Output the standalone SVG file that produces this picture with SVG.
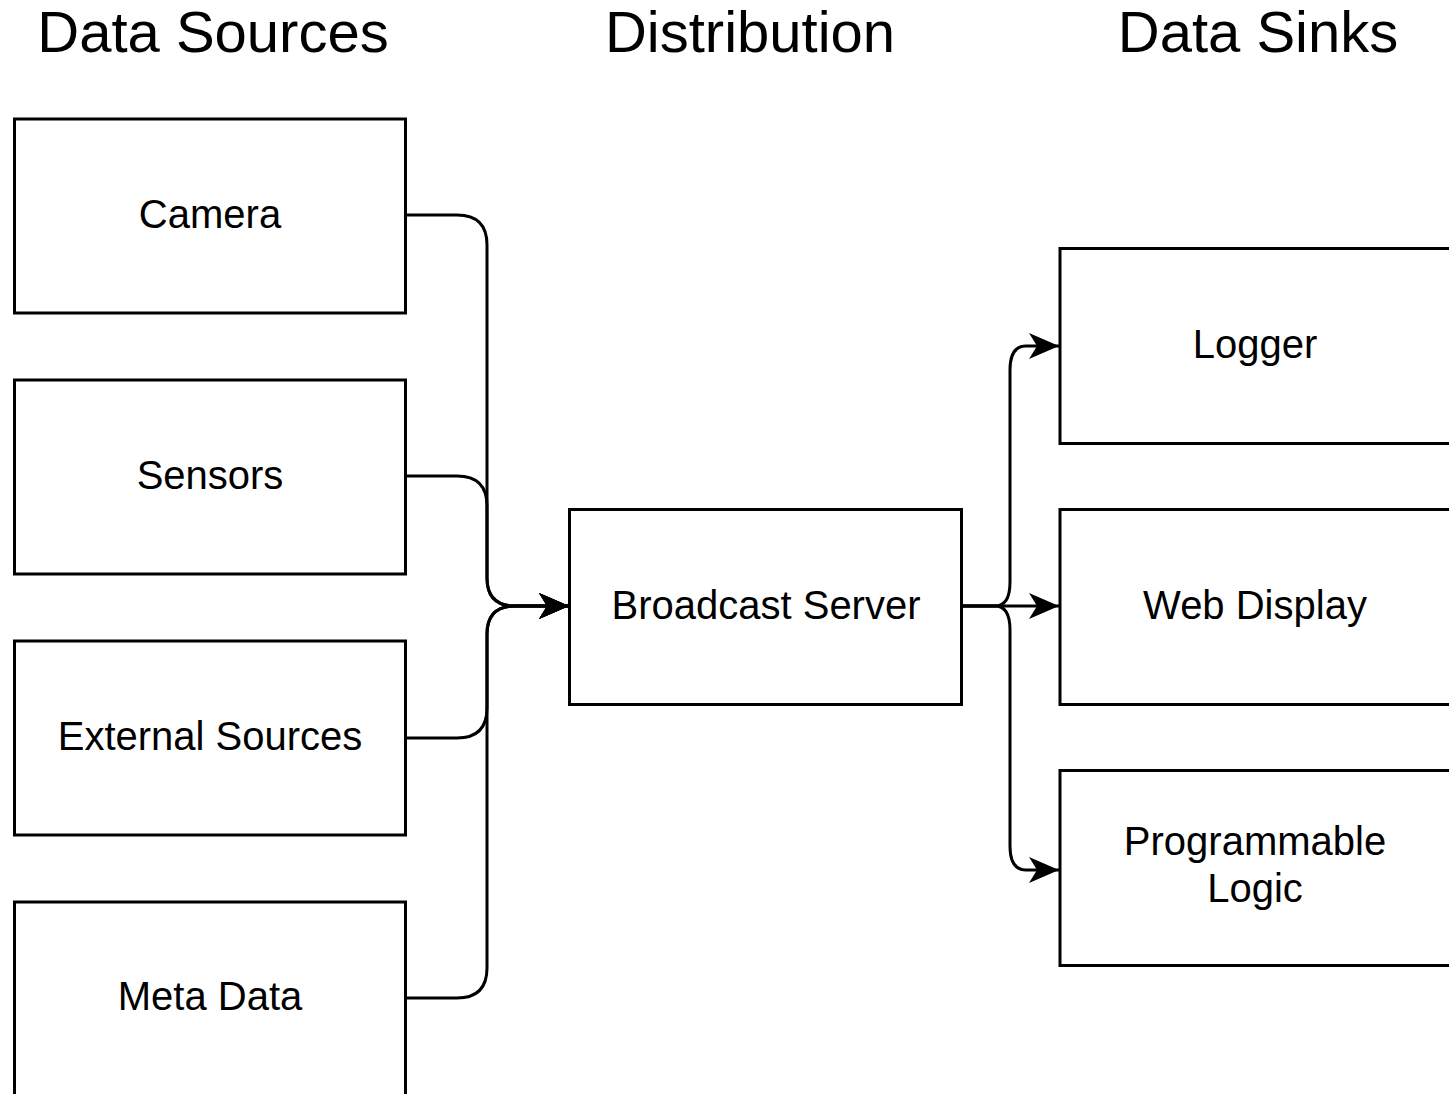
<svg xmlns="http://www.w3.org/2000/svg" width="1449" height="1094" viewBox="0 0 1449 1094">
<style>
.box{fill:#fff;stroke:#000;stroke-width:3}
.lbl{font-family:"Liberation Sans",Arial,sans-serif;font-size:40px;fill:#000;text-anchor:middle}
.title{font-family:"Liberation Sans",Arial,sans-serif;font-size:58px;fill:#000;text-anchor:middle}
.edge{fill:none;stroke:#000;stroke-width:3}
</style>
<defs>
<marker id="arr" viewBox="-31 -15 32 30" markerWidth="32" markerHeight="30" refX="0" refY="0" orient="auto" markerUnits="userSpaceOnUse">
<path d="M0,0 L-30,-13 L-22,0 L-30,13 Z" fill="#000"/>
</marker>
</defs>
<rect width="1449" height="1094" fill="#fff"/>
<g id="titles">
<text class="title" x="213" y="52">Data Sources</text>
<text class="title" x="750" y="52">Distribution</text>
<text class="title" x="1258" y="52">Data Sinks</text>
</g>
<g id="connectors">
<path class="edge" d="M406,215 H457 Q487,215 487,245 V578 Q487,606 515,606 H569" marker-end="url(#arr)"/>
<path class="edge" d="M406,476 H457 Q487,476 487,506 V578 Q487,606 515,606 H569" marker-end="url(#arr)"/>
<path class="edge" d="M406,738 H457 Q487,738 487,708 V634 Q487,606 515,606 H569" marker-end="url(#arr)"/>
<path class="edge" d="M406,998 H457 Q487,998 487,968 V634 Q487,606 515,606 H569" marker-end="url(#arr)"/>
<path class="edge" d="M962,606 H995 Q1010,606 1010,582 V370 Q1010,346 1026,346 H1059" marker-end="url(#arr)"/>
<path class="edge" d="M962,606 H1059" marker-end="url(#arr)"/>
<path class="edge" d="M962,606 H995 Q1010,606 1010,630 V846 Q1010,870 1026,870 H1059" marker-end="url(#arr)"/>
</g>
<g id="camera"><rect class="box" x="14.5" y="119" width="391" height="194"/><text class="lbl" x="210" y="228">Camera</text></g>
<g id="sensors"><rect class="box" x="14.5" y="380" width="391" height="194"/><text class="lbl" x="210" y="489">Sensors</text></g>
<g id="external"><rect class="box" x="14.5" y="641" width="391" height="194"/><text class="lbl" x="210" y="750">External Sources</text></g>
<g id="meta"><rect class="box" x="14.5" y="902" width="391" height="194"/><text class="lbl" x="210" y="1010">Meta Data</text></g>
<g id="broadcast"><rect class="box" x="569.5" y="509.5" width="392" height="195"/><text class="lbl" x="766" y="619">Broadcast Server</text></g>
<g id="logger"><rect class="box" x="1060" y="248.5" width="393" height="195"/><text class="lbl" x="1255" y="358">Logger</text></g>
<g id="web"><rect class="box" x="1060" y="509.5" width="393" height="195"/><text class="lbl" x="1255" y="619">Web Display</text></g>
<g id="prog"><rect class="box" x="1060" y="770.5" width="393" height="195"/><text class="lbl" x="1255" y="855">Programmable</text><text class="lbl" x="1255" y="902">Logic</text></g>
</svg>
